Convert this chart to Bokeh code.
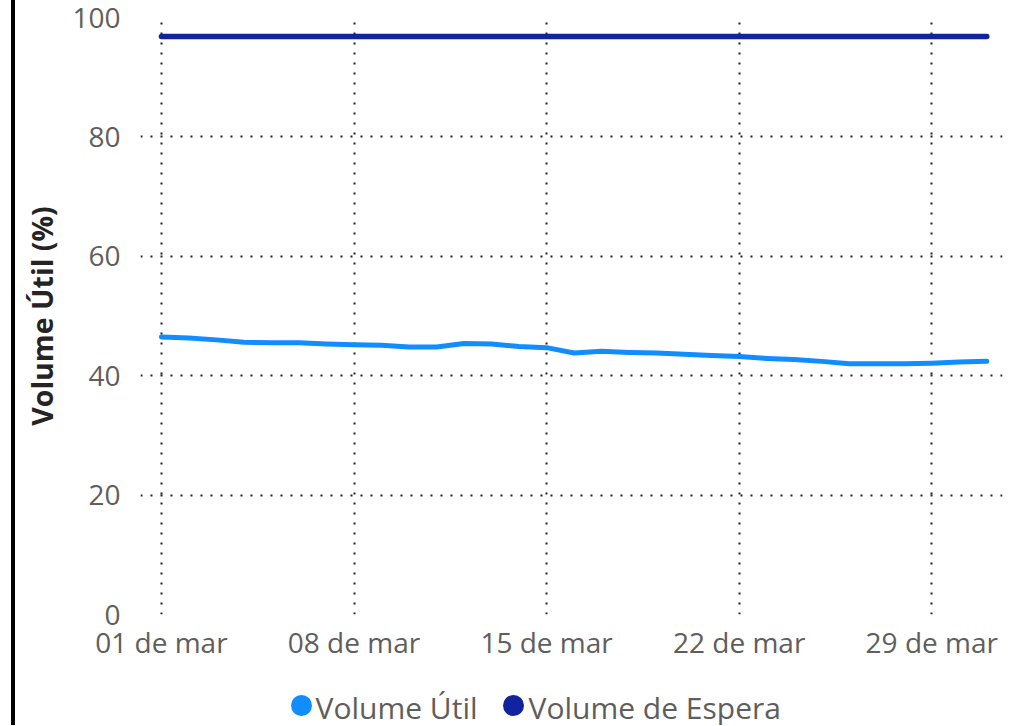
from bokeh.plotting import figure
from bokeh.layouts import column
from bokeh.models import Range1d, FixedTicker
from bokeh.core.properties import value
from bokeh.embed import file_html
from bokeh.resources import INLINE

days = list(range(1, 32))
volume_util = [46.5, 46.3, 46.0, 45.6, 45.5, 45.5, 45.3, 45.2, 45.1, 44.8, 44.8,
               45.4, 45.3, 44.9, 44.7, 43.8, 44.1, 43.9, 43.8, 43.6, 43.4, 43.2,
               42.9, 42.7, 42.4, 42.0, 42.0, 42.0, 42.1, 42.3, 42.4]
volume_espera = [96.8, 96.8, 96.8, 96.8, 96.8, 96.8, 96.8, 96.8, 96.8, 96.8, 96.8,
                 96.8, 96.8, 96.8, 96.8, 96.8, 96.8, 96.8, 96.8, 96.8, 96.8, 96.8,
                 96.8, 96.8, 96.8, 96.8, 96.8, 96.8, 96.8, 96.8, 96.8]
x_tick_days = [1, 8, 15, 22, 29]
x_tick_labels = ["01 de mar", "08 de mar", "15 de mar", "22 de mar", "29 de mar"]
y_ticks = [0, 20, 40, 60, 80, 100]
series_names = ["Volume Útil", "Volume de Espera"]
colors = ["#118DFF", "#12239E"]

FONT = "Open Sans"
GREY = "#605E5C"

p = figure(width=1011, height=670, output_backend="svg", toolbar_location=None,
           x_range=Range1d(0.24, 31.57), y_range=Range1d(0, 100),
           min_border_left=125, min_border_right=24, min_border_top=17,
           min_border_bottom=56)
p.outline_line_color = None

p.line(days, volume_util, line_color=colors[0], line_width=5,
       line_cap="round", line_join="round")
p.line(days, volume_espera, line_color=colors[1], line_width=5.5,
       line_cap="round")

p.xaxis.ticker = FixedTicker(ticks=x_tick_days)
p.xaxis.major_label_overrides = {d: l for d, l in zip(x_tick_days, x_tick_labels)}
p.yaxis.ticker = FixedTicker(ticks=y_ticks)

for ax in (p.xaxis[0], p.yaxis[0]):
    ax.axis_line_color = None
    ax.major_tick_line_color = None
    ax.minor_tick_line_color = None
    ax.major_tick_out = 0
    ax.major_tick_in = 0
    ax.minor_tick_out = 0
    ax.minor_tick_in = 0
    ax.major_label_text_font = FONT
    ax.major_label_text_font_size = "28px"
    ax.major_label_text_color = GREY

p.xaxis.major_label_standoff = 8
p.yaxis.major_label_standoff = 20
p.yaxis.axis_label = "Volume Útil (%)"
p.yaxis.axis_label_text_font = FONT
p.yaxis.axis_label_text_font_size = "28.5px"
p.yaxis.axis_label_text_font_style = "bold"
p.yaxis.axis_label_text_color = "#252423"
p.yaxis.axis_label_standoff = 8

for g in (p.xgrid[0], p.ygrid[0]):
    g.grid_line_color = "#222222"
    g.grid_line_width = 2
    g.grid_line_dash = "2 8"
p.xgrid.ticker = FixedTicker(ticks=x_tick_days)
p.ygrid.ticker = FixedTicker(ticks=y_ticks)

# legend strip below the chart (its frame is aligned with the chart frame;
# the layout space is expressed in page pixels)
LEG_H = 55
legend_marker_x = [301, 513]
legend_text_x = [315, 528]
legend_marker_y = 20
legend_text_y = 18

lf = figure(width=1011, height=LEG_H, output_backend="svg", toolbar_location=None,
            x_range=Range1d(140, 1002), y_range=Range1d(0, LEG_H),
            x_axis_location=None, y_axis_location=None,
            min_border_left=0, min_border_right=0, min_border_top=0,
            min_border_bottom=0)
lf.outline_line_color = None
lf.xgrid.visible = False
lf.ygrid.visible = False
lf.scatter(x=legend_marker_x, y=[legend_marker_y] * 2, marker="circle",
           size=21, fill_color=colors, line_color=None)
lf.text(x=legend_text_x, y=[legend_text_y] * 2, text=series_names,
        text_font=value(FONT), text_font_size="30px", text_color=GREY,
        text_align="left", text_baseline="alphabetic")

layout = column(p, lf, spacing=0)
layout.styles = {"margin-left": "11px", "border-left": "4px solid black"}

open("out.html", "w").write(file_html(layout, INLINE))
